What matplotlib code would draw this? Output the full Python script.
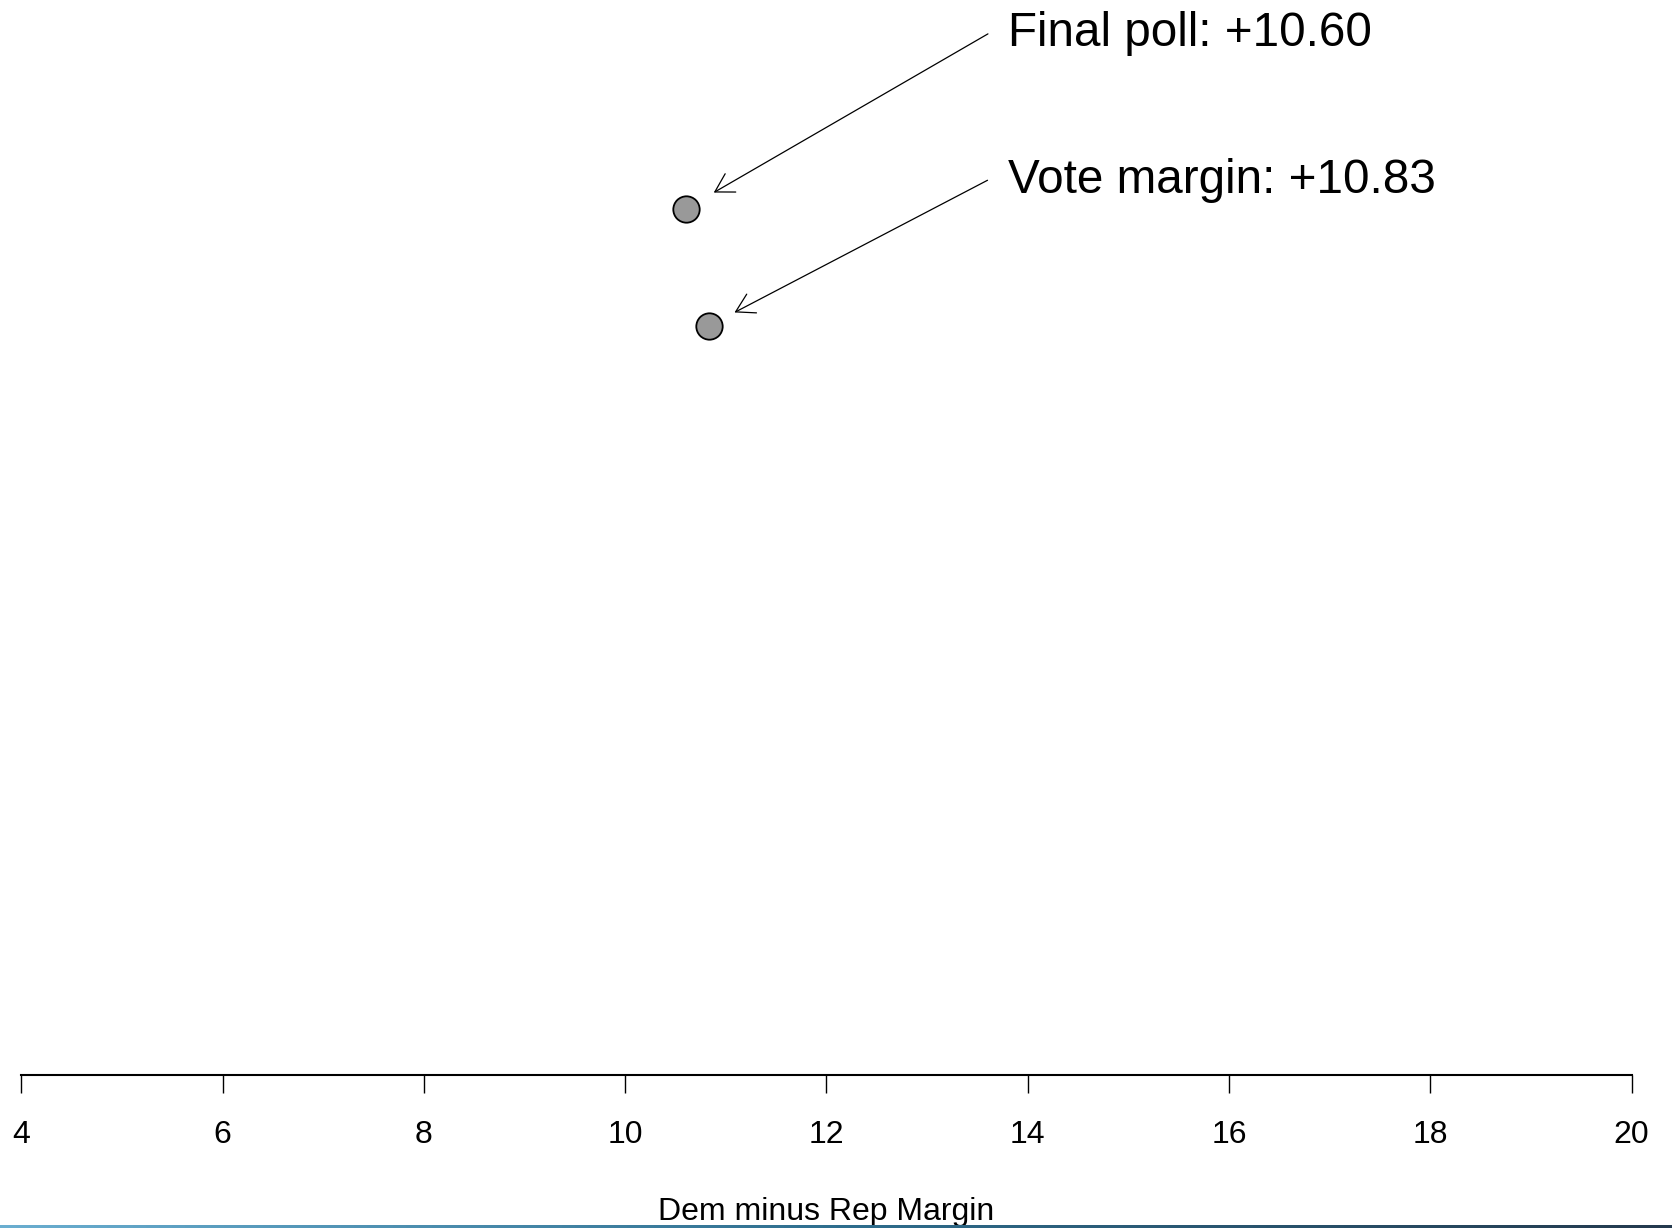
import numpy as np
import matplotlib.pyplot as plt
from matplotlib.colors import LinearSegmentedColormap

## Data
labels = ['Final poll', 'Vote margin']
margins = [10.60, 10.83]
rows = [2, 1]
xticks = [4, 6, 8, 10, 12, 14, 16, 18, 20]

plt.rcParams['font.family'] = ['Liberation Sans', 'DejaVu Sans']

fig = plt.figure(figsize=(16.72, 12.28), dpi=100)
# Plot region: x axis line sits ~1075 px from the top
ax = fig.add_axes([21.3 / 1672, (1228 - 1075) / 1228, 1610.2 / 1672, 1075 / 1228])
ax.set_xlim(4, 20)
ax.set_ylim(-5.4, 3.785)

ax.plot(margins, rows, linestyle='none', marker='o', markersize=19,
        markerfacecolor='#999999', markeredgecolor='black', markeredgewidth=1.3,
        zorder=3)

# Labels with arrows pointing at the dots
text_y = [0.969, 0.832]
shrink = [23.5, 21]
for lab, m, r, ty, sb in zip(labels, margins, rows, text_y, shrink):
    ax.annotate('%s: %+.2f' % (lab, m), xy=(m, r),
                xytext=(13.8, ty), textcoords=('data', 'axes fraction'),
                fontsize=34.3, va='center', ha='left',
                arrowprops=dict(arrowstyle='->, head_length=0.65, head_width=0.38',
                                mutation_scale=20, color='black', lw=0.9,
                                relpos=(0, 0.74), shrinkA=14, shrinkB=sb))

# Axis styling: only the bottom axis, R-like
for side in ['left', 'top', 'right']:
    ax.spines[side].set_visible(False)
ax.spines['bottom'].set_linewidth(1.5)
ax.set_yticks([])
ax.set_xticks(xticks)
ax.set_xticklabels([str(t) for t in xticks])
ax.tick_params(axis='x', length=13, width=1, labelsize=23, pad=19.5)
ax.set_xlabel('Dem minus Rep Margin', fontsize=23, labelpad=34)

# Thin gradient strip along the bottom edge
cmap = LinearSegmentedColormap.from_list('strip', ['#6aaed0', '#2e6e8e', '#243a4e'])
strip = fig.add_axes([0, 0, 1, 3 / 1228])
strip.imshow(np.linspace(0, 1, 256)[None, :], aspect='auto', cmap=cmap)
strip.axis('off')

fig.savefig('out.png', dpi=100, facecolor='white')
